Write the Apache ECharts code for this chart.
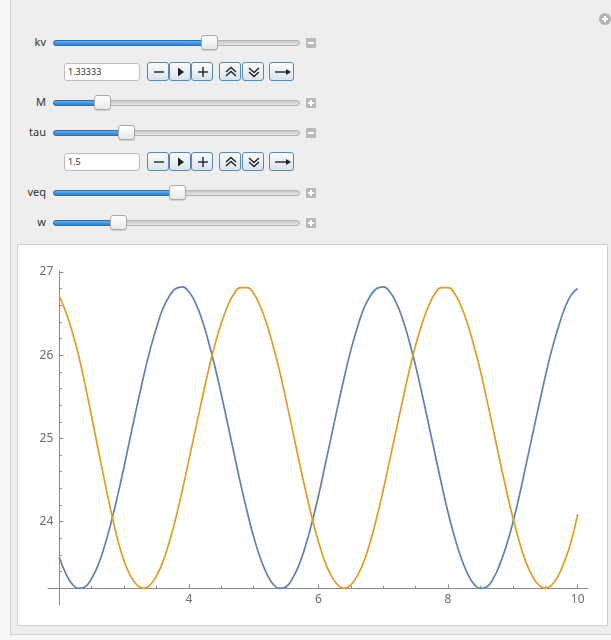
<!DOCTYPE html>
<html>
<head>
<meta charset="utf-8">
<script src="https://cdn.jsdelivr.net/npm/echarts@6/dist/echarts.min.js"></script>
<style>
  html, body { margin: 0; padding: 0; background: #f6f6f6; }
  body { width: 611px; height: 640px; position: relative; overflow: hidden; font-family: 'Noto Sans', 'DejaVu Sans', sans-serif; }
  .panel { position: absolute; left: 10px; top: -1px; width: 606px; height: 636px; background: #eeeeee; border: 1px solid #d4d4d4; box-sizing: border-box; }
  .abs { position: absolute; box-sizing: border-box; }
  .lbl { left: 0; width: 46px; text-align: right; font-size: 11px; line-height: 14px; color: #333; }
  .track { left: 53px; width: 247px; height: 6px; border-radius: 3px; background: linear-gradient(#c8c8c8, #e6e6e6); border: 1px solid #b5b5b5; }
  .fill { left: 53px; height: 6px; border-radius: 3px; background: linear-gradient(#63aee9, #2b82cc); border: 1px solid #2c70ad; }
  .knob { width: 17px; height: 15px; border-radius: 3px; background: linear-gradient(#ffffff, #e8e8e8); border: 1px solid #a8a8a8; box-shadow: 0 1px 1px rgba(0,0,0,0.12); }
  .icon { left: 306px; width: 10px; height: 10px; background: #b9b9b9; border-radius: 1px; }
  .field { left: 64px; width: 76px; height: 18px; background: #fff; border: 1px solid #bdbdbd; border-radius: 3px; font-size: 9px; line-height: 16px; padding-left: 3px; color: #333; }
  .btn { height: 19px; border: 1px solid #5688b8; border-radius: 3px; background: linear-gradient(#fbfcfd, #dbe3eb); }
  .btn svg { position: absolute; left: 0; top: 0; }
  .plotbox { left: 17px; top: 244px; width: 591px; height: 382px; background: #fff; border: 1px solid #cfcfcf; }
  #plot { position: absolute; left: 18px; top: 245px; width: 589px; height: 380px; }
</style>
</head>
<body>
<div class="panel"></div>
<div id="controls"></div>
<div class="abs plotbox"></div>
<div id="plot"></div>
<script>
// plot data: x samples and the two curves
const xs = [2.0, 2.1, 2.2, 2.3, 2.4, 2.5, 2.6, 2.7, 2.8, 2.9,
  3.0, 3.1, 3.2, 3.3, 3.4, 3.5, 3.6, 3.7, 3.8, 3.9,
  4.0, 4.1, 4.2, 4.3, 4.4, 4.5, 4.6, 4.7, 4.8, 4.9,
  5.0, 5.1, 5.2, 5.3, 5.4, 5.5, 5.6, 5.7, 5.8, 5.9,
  6.0, 6.1, 6.2, 6.3, 6.4, 6.5, 6.6, 6.7, 6.8, 6.9,
  7.0, 7.1, 7.2, 7.3, 7.4, 7.5, 7.6, 7.7, 7.8, 7.9,
  8.0, 8.1, 8.2, 8.3, 8.4, 8.5, 8.6, 8.7, 8.8, 8.9,
  9.0, 9.1, 9.2, 9.3, 9.4, 9.5, 9.6, 9.7, 9.8, 9.9, 10.0];

const blueCurve = [23.57, 23.38, 23.25, 23.20, 23.22, 23.32, 23.48, 23.71, 23.99, 24.31,
  24.66, 25.03, 25.39, 25.74, 26.06, 26.33, 26.56, 26.71, 26.80, 26.82,
  26.76, 26.63, 26.43, 26.17, 25.87, 25.53, 25.17, 24.81, 24.45, 24.12,
  23.82, 23.57, 23.38, 23.25, 23.20, 23.22, 23.32, 23.48, 23.71, 23.99,
  24.31, 24.67, 25.03, 25.39, 25.74, 26.06, 26.33, 26.56, 26.71, 26.80,
  26.82, 26.76, 26.63, 26.43, 26.17, 25.87, 25.53, 25.17, 24.81, 24.45,
  24.11, 23.82, 23.57, 23.38, 23.25, 23.20, 23.22, 23.32, 23.49, 23.71,
  23.99, 24.31, 24.67, 25.03, 25.39, 25.74, 26.06, 26.33, 26.56, 26.72, 26.80];

const orangeCurve = [26.71, 26.52, 26.28, 25.99, 25.64, 25.26, 24.87, 24.49, 24.12, 23.79,
  23.53, 23.35, 23.24, 23.20, 23.24, 23.35, 23.52, 23.76, 24.05, 24.38,
  24.74, 25.10, 25.46, 25.81, 26.12, 26.38, 26.59, 26.74, 26.81, 26.81,
  26.74, 26.59, 26.38, 26.11, 25.81, 25.46, 25.10, 24.73, 24.38, 24.05,
  23.76, 23.52, 23.35, 23.24, 23.20, 23.24, 23.35, 23.52, 23.76, 24.05,
  24.38, 24.74, 25.10, 25.46, 25.81, 26.12, 26.38, 26.59, 26.74, 26.81,
  26.81, 26.74, 26.59, 26.38, 26.11, 25.81, 25.46, 25.10, 24.73, 24.38,
  24.05, 23.76, 23.52, 23.35, 23.24, 23.20, 23.24, 23.35, 23.53, 23.76, 24.09];

const xTickLabels = [4, 6, 8, 10];
const xMinorTicks = [2.5, 3, 3.5, 4.5, 5, 5.5, 6.5, 7, 7.5, 8.5, 9, 9.5];
const yTickLabels = [24, 25, 26, 27];
const yMinorTicks = [23.4, 23.6, 23.8, 24.2, 24.4, 24.6, 24.8, 25.2, 25.4, 25.6, 25.8,
  26.2, 26.4, 26.6, 26.8];

// Manipulate controls
const sliders = [
  { name: 'kv', y: 43, knob: 209, open: true },
  { name: 'M', y: 103, knob: 102, open: false },
  { name: 'tau', y: 133, knob: 126, open: true },
  { name: 'veq', y: 193, knob: 177, open: false },
  { name: 'w', y: 223, knob: 118, open: false }
];
const fields = [
  { text: '1.33333', y: 72 },
  { text: '1.5', y: 162 }
];

const controls = document.getElementById('controls');

function el(cls, css, html) {
  const d = document.createElement('div');
  d.className = 'abs ' + cls;
  Object.assign(d.style, css);
  if (html) d.innerHTML = html;
  controls.appendChild(d);
  return d;
}

sliders.forEach(s => {
  el('lbl', { top: (s.y - 8) + 'px' }).textContent = s.name;
  el('track', { top: (s.y - 3) + 'px' });
  el('fill', { top: (s.y - 3) + 'px', width: (s.knob - 53) + 'px' });
  el('knob', { top: (s.y - 8) + 'px', left: (s.knob - 8) + 'px' });
  const bar = '<div class="abs" style="left:2px;top:4px;width:6px;height:2px;background:#fff"></div>';
  const vbar = s.open ? '' : '<div class="abs" style="left:4px;top:2px;width:2px;height:6px;background:#fff"></div>';
  el('icon', { top: (s.y - 5) + 'px' }, bar + vbar);
});

const stroke = 'stroke="#222" fill="none" stroke-width="1.4"';
const buttons = [
  { left: 147, w: 22, svg: '<line x1="6" y1="9" x2="16" y2="9" ' + stroke + '/>' },
  { left: 169, w: 22, svg: '<polygon points="8,4.5 14,9 8,13.5" fill="#222"/>' },
  { left: 191, w: 22, svg: '<line x1="6" y1="9" x2="16" y2="9" ' + stroke + '/><line x1="11" y1="4" x2="11" y2="14" ' + stroke + '/>' },
  { left: 219, w: 22, svg: '<polyline points="6,9 11,4.5 16,9" ' + stroke + '/><polyline points="6,13 11,8.5 16,13" ' + stroke + '/>' },
  { left: 242, w: 22, svg: '<polyline points="6,5 11,9.5 16,5" ' + stroke + '/><polyline points="6,9 11,13.5 16,9" ' + stroke + '/>' },
  { left: 269, w: 25, svg: '<line x1="5" y1="9" x2="18" y2="9" ' + stroke + '/><polygon points="16,6 21,9 16,12" fill="#222"/>' }
];

fields.forEach(f => {
  el('field', { top: (f.y - 9) + 'px' }).textContent = f.text;
  buttons.forEach(b => {
    el('btn', { top: (f.y - 10) + 'px', left: b.left + 'px', width: b.w + 'px' },
      '<svg width="' + b.w + '" height="19">' + b.svg + '</svg>');
  });
});

// the round "+" in the top right corner
el('', { left: '599px', top: '13px', width: '12px', height: '12px', borderRadius: '6px', background: '#b3b3b3' },
  '<div class="abs" style="left:3px;top:5px;width:6px;height:2px;background:#fff"></div>' +
  '<div class="abs" style="left:5px;top:3px;width:2px;height:6px;background:#fff"></div>');

// chart
const axisGray = '#8a8a8a';
const labelGray = '#6b6b6b';
const fontFamily = "'Noto Sans', sans-serif";
const xMin = 1.826, xMax = 10.16, yMin = 23.0, yMax = 27.01;

const chart = echarts.init(document.getElementById('plot'));

chart.setOption({
  animation: false,
  grid: { left: 30, right: 19, top: 26, bottom: 20, containLabel: false, outerBoundsMode: 'none' },
  xAxis: [
    {
      type: 'value', min: xMin, max: xMax, position: 'bottom', offset: -16.7,
      axisLine: { lineStyle: { color: axisGray, width: 1 } },
      axisTick: { inside: true, length: 4, customValues: xTickLabels, lineStyle: { color: axisGray } },
      axisLabel: { customValues: xTickLabels, margin: 5, color: labelGray, fontSize: 12, fontFamily },
      splitLine: { show: false }
    },
    {
      type: 'value', min: xMin, max: xMax, position: 'bottom', offset: -16.7,
      axisLine: { show: false },
      axisTick: { inside: true, length: 2.5, customValues: xMinorTicks, lineStyle: { color: axisGray } },
      axisLabel: { show: false },
      splitLine: { show: false }
    }
  ],
  yAxis: [
    {
      type: 'value', min: yMin, max: yMax, position: 'left', offset: -11.3,
      axisLine: { show: true, lineStyle: { color: axisGray, width: 1 } },
      axisTick: { show: true, inside: true, length: 4, customValues: yTickLabels, lineStyle: { color: axisGray } },
      axisLabel: { customValues: yTickLabels, margin: 6, color: labelGray, fontSize: 12, fontFamily },
      splitLine: { show: false }
    },
    {
      type: 'value', min: yMin, max: yMax, position: 'left', offset: -11.3,
      axisLine: { show: false },
      axisTick: { show: true, inside: true, length: 2.5, customValues: yMinorTicks, lineStyle: { color: axisGray } },
      axisLabel: { show: false },
      splitLine: { show: false }
    }
  ],
  series: [
    {
      type: 'line',
      data: xs.map((x, i) => [x, blueCurve[i]]),
      showSymbol: false,
      smooth: 0.5,
      lineStyle: { color: '#5e81b5', width: 1.7 }
    },
    {
      type: 'line',
      data: xs.map((x, i) => [x, orangeCurve[i]]),
      showSymbol: false,
      smooth: 0.5,
      lineStyle: { color: '#e19c24', width: 1.7 }
    }
  ]
});
</script>
</body>
</html>
